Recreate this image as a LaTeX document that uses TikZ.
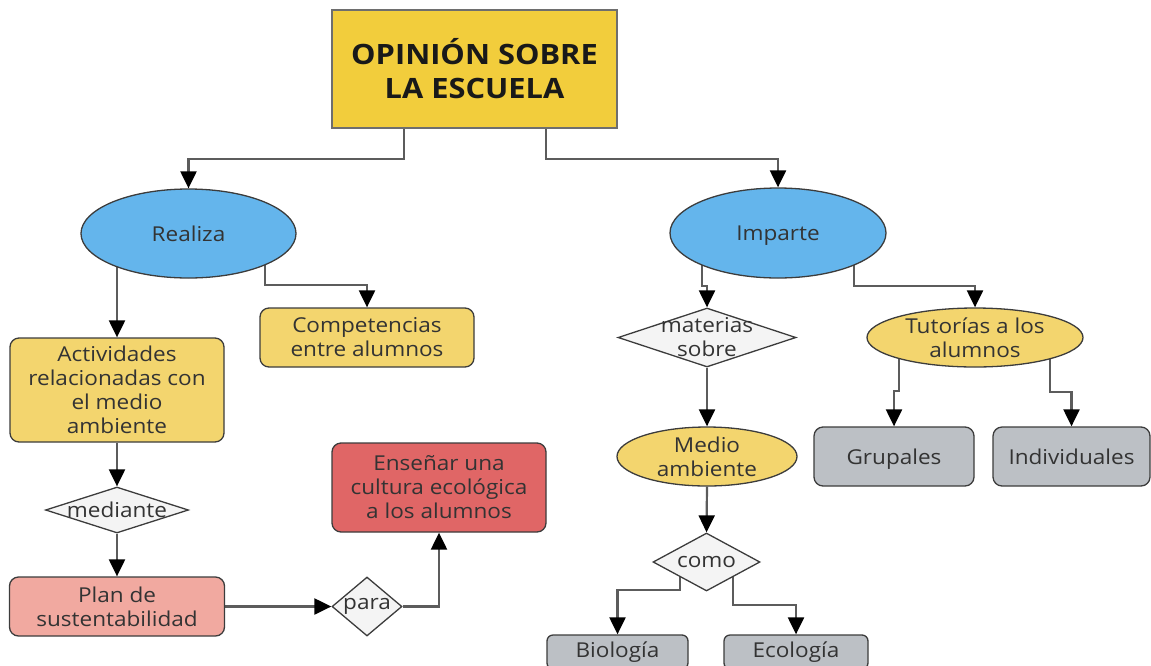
\documentclass[tikz,border=0pt]{standalone}
\usepackage{fontspec}
\setmainfont{Open Sans}[FakeStretch=1.1]
\usetikzlibrary{shapes.geometric,arrows.meta,backgrounds}

\definecolor{titlefill}{HTML}{F2CD3C}
\definecolor{titleline}{HTML}{6E6E6E}
\definecolor{bluefill}{HTML}{64B5EC}
\definecolor{yellowfill}{HTML}{F3D56E}
\definecolor{pinkfill}{HTML}{F1A9A0}
\definecolor{redfill}{HTML}{E06666}
\definecolor{grayfill}{HTML}{BCC0C5}
\definecolor{diafill}{HTML}{F4F4F4}
\definecolor{nodeline}{HTML}{3C3C3C}
\definecolor{linegray}{HTML}{5C5C5C}
\definecolor{txt}{HTML}{333333}

\begin{document}
\begin{tikzpicture}[x=1pt,y=-1pt,
  bodyfont/.style={font=\fontsize{20.5}{24}\selectfont},
  base/.style={draw=nodeline, line width=1.3pt, inner sep=0pt, align=center,
               text=txt, bodyfont},
  box/.style={base, rectangle, rounded corners=9pt},
  oval/.style={base, ellipse},
  diam/.style={base, diamond, fill=diafill},
  dtext/.style={text=txt, bodyfont, align=center, inner sep=0pt},
  conn/.style={draw=linegray, line width=2.2pt,
               -{Triangle[length=17pt,width=16pt,color=black]}}
]
\useasboundingbox (0,0) rectangle (1151,665);
\clip (0,0) rectangle (1151,665);

% main topic
\node[draw=titleline, line width=2.5pt, fill=titlefill, minimum width=285pt,
      minimum height=118pt, inner sep=0pt, align=center, text=black!90,
      font=\fontsize{28}{34}\selectfont\bfseries]
  (title) at (474.5,69) {OPINIÓN SOBRE\\LA ESCUELA};

% second level
\node[oval, fill=bluefill, minimum width=215pt, minimum height=89pt]
  (realiza) at (188.5,233.5) {Realiza};
\node[oval, fill=bluefill, minimum width=216pt, minimum height=90pt,
      text depth=0pt]
  (imparte) at (778,233) {Imparte};

% left branch
\node[box, fill=yellowfill, minimum width=214pt, minimum height=104pt]
  (activ) at (117,390) {Actividades\\relacionadas con\\el medio\\ambiente};
\node[box, fill=yellowfill, minimum width=214pt, minimum height=59pt]
  (compet) at (367,337.5) {Competencias\\entre alumnos};
\node[diam, minimum width=143pt, minimum height=46pt,
      label={[dtext]center:mediante}]
  (mediante) at (117,510) {};
\node[box, fill=pinkfill, minimum width=215pt, minimum height=59pt]
  (plan) at (117,606.5) {Plan de\\sustentabilidad};
\node[diam, minimum width=70pt, minimum height=59pt,
      label={[dtext]center:para}]
  (para) at (367,606.5) {};
\node[box, fill=redfill, minimum width=214pt, minimum height=89pt]
  (ensenar) at (439,487.5) {Enseñar una\\cultura ecológica\\a los alumnos};

% right branch
\node[diam, minimum width=178pt, minimum height=59pt,
      label={[dtext]center:{materias\\sobre}}]
  (materias) at (707,337.5) {};
\node[oval, fill=yellowfill, minimum width=180pt, minimum height=59pt]
  (medio) at (707,456.5) {Medio\\ambiente};
\node[diam, minimum width=107pt, minimum height=58pt,
      label={[dtext]center:como}]
  (como) at (706.5,562) {};
\node[box, fill=grayfill, minimum width=141pt, minimum height=34pt, rounded corners=6pt]
  (biologia) at (617.5,652) {Biología};
\node[box, fill=grayfill, minimum width=144pt, minimum height=34pt, rounded corners=6pt]
  (ecologia) at (796,652) {Ecología};
\node[oval, fill=yellowfill, minimum width=216pt, minimum height=59pt]
  (tutorias) at (975,337.5) {Tutorías a los\\alumnos};
\node[box, fill=grayfill, minimum width=160pt, minimum height=59pt,
      text depth=0pt]
  (grupales) at (894,456.5) {Grupales};
\node[box, fill=grayfill, minimum width=157pt, minimum height=59pt]
  (individ) at (1071.5,456.5) {Individuales};

% connectors run underneath the shapes
\begin{pgfonlayer}{background}
  \draw[conn] ([xshift=-70.5pt]title.south) -- ++(0,30) -| (realiza.north);
  \draw[conn] ([xshift=71.5pt]title.south) -- ++(0,30) -| (imparte.north);

  \draw[conn] (activ.north |- realiza.center) -- (activ.north);
  \draw[conn] ([xshift=76.5pt]realiza.center) |- ([yshift=22pt]compet.north)
              -- (compet.north);
  \draw[conn] (activ.south) -- (mediante.north);
  \draw[conn] (mediante.south) -- (plan.north);
  \draw[conn] (plan.east) -- (para.west);
  \draw[conn] (para.east) -| (ensenar.south);

  \draw[conn] ([xshift=-76pt]imparte.center) |- ([yshift=21pt]materias.north)
              -- (materias.north);
  \draw[conn] ([xshift=76pt]imparte.center) |- ([yshift=21pt]tutorias.north)
              -- (tutorias.north);
  \draw[conn] (materias.south) -- (medio.north);
  \draw[conn] (medio.south) -- (como.north);
  \draw[conn] ([xshift=-26.5pt]como.center) |- ([yshift=44pt]biologia.north)
              -- (biologia.north);
  \draw[conn] ([xshift=26.5pt]como.center) |- ([yshift=29pt]ecologia.north)
              -- (ecologia.north);
  \draw[conn] ([xshift=-76pt]tutorias.center) |- ([yshift=35pt]grupales.north)
              -- (grupales.north);
  \draw[conn] ([xshift=75pt]tutorias.center) |- ([yshift=34pt]individ.north)
              -- (individ.north);
\end{pgfonlayer}
\end{tikzpicture}
\end{document}
